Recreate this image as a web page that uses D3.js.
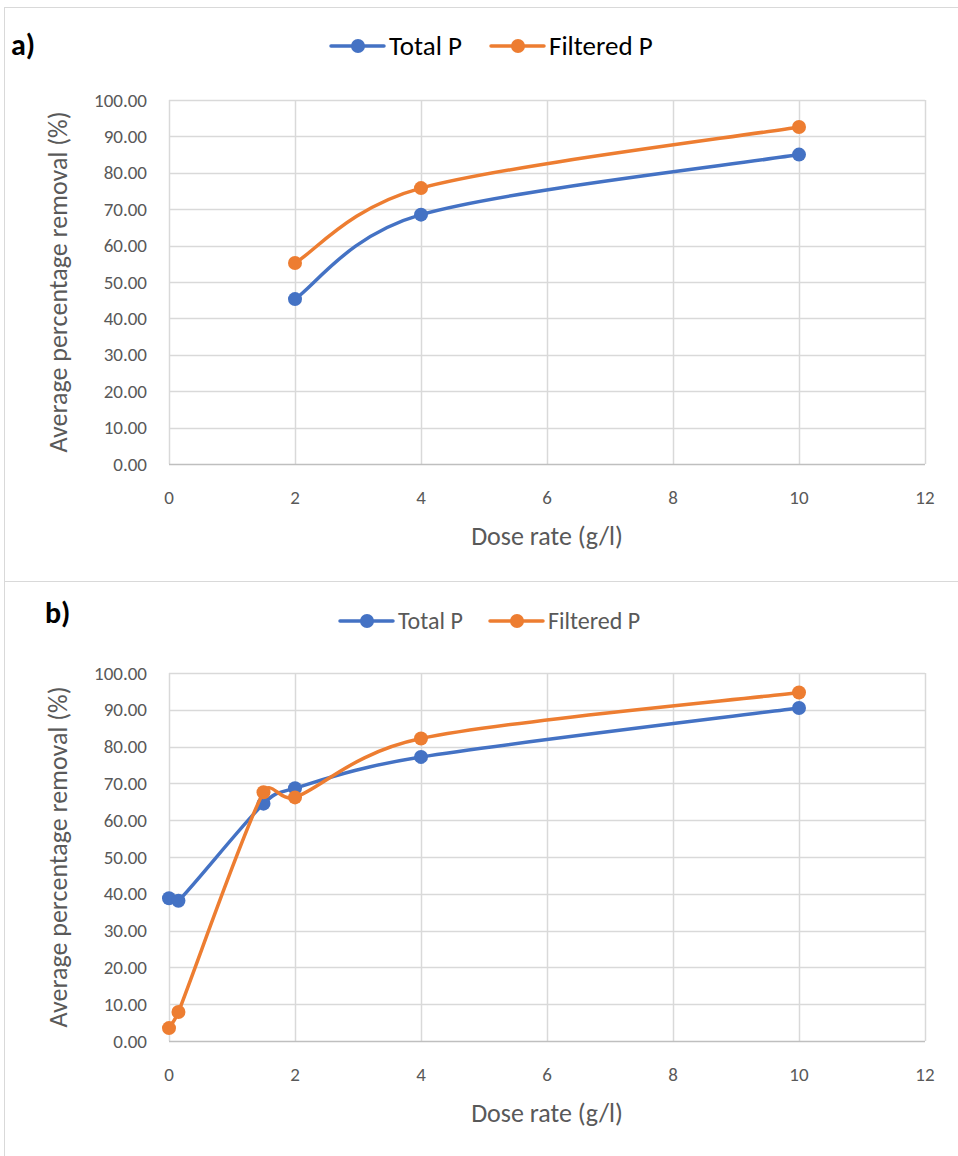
<!DOCTYPE html>
<html><head><meta charset="utf-8">
<script src="https://cdn.jsdelivr.net/npm/d3@7"></script>
<style>
body{margin:0;background:#fff;}
text{font-family:"Carlito","Liberation Sans Narrow","Open Sans",sans-serif;}
</style></head>
<body><svg id="c" width="958" height="1156"></svg>
<script>
const seriesNames = ["Total P", "Filtered P"];
const colors = ["#4472c4", "#ed7d31"];
const xTicks = [0, 2, 4, 6, 8, 10, 12];
const yTicks = [0, 10, 20, 30, 40, 50, 60, 70, 80, 90, 100];

const doseA = [2, 4, 10];
const totalA = [45.3, 68.5, 85.0];
const filteredA = [55.2, 75.8, 92.6];

const doseB = [0, 0.15, 1.5, 2, 4, 10];
const totalB = [38.8, 38.1, 64.5, 68.7, 77.2, 90.5];
const filteredB = [3.5, 7.9, 67.6, 66.2, 82.2, 94.7];

// Excel-like smoothing curve (Bezier with limited control-point length)
function ExcelCurve(context){ this._context = context; }
ExcelCurve.prototype = {
  areaStart(){}, areaEnd(){},
  lineStart(){ this._pts = []; },
  point(x, y){ this._pts.push([+x, +y]); },
  lineEnd(){
    const p = this._pts, c = this._context, n = p.length;
    if (!n) return;
    c.moveTo(p[0][0], p[0][1]);
    const dist = (a,b)=>Math.hypot(a[0]-b[0], a[1]-b[1]);
    for (let i = 0; i < n-1; i++){
      const p0 = p[Math.max(i-1,0)], p1 = p[i], p2 = p[i+1], p3 = p[Math.min(i+2,n-1)];
      const d12 = dist(p1,p2), d02 = dist(p0,p2), d13 = dist(p1,p3);
      let f1 = 1/6, f2 = 1/6;
      if (d02 > 0 && d02/6 > d12/2) f1 = d12/(2*d02);
      if (d13 > 0 && d13/6 > d12/2) f2 = d12/(2*d13);
      c.bezierCurveTo(p1[0]+f1*(p2[0]-p0[0]), p1[1]+f1*(p2[1]-p0[1]),
                      p2[0]-f2*(p3[0]-p1[0]), p2[1]-f2*(p3[1]-p1[1]),
                      p2[0], p2[1]);
    }
  }
};
const curveExcel = ctx => new ExcelCurve(ctx);

const svg = d3.select("#c");
svg.append("rect").attr("x",4.5).attr("y",7.5).attr("width",960).attr("height",574).attr("fill","none").attr("stroke","#d9d9d9");
svg.append("rect").attr("x",4.5).attr("y",581.5).attr("width",960).attr("height",600).attr("fill","none").attr("stroke","#d9d9d9");

function panel(cfg){
  const g = svg.append("g");
  const x = d3.scaleLinear().domain([0,12]).range([169,925]);
  const y = d3.scaleLinear().domain([0,100]).range([cfg.y0, cfg.y100]);
  g.selectAll(".hg").data(yTicks.slice(1)).join("line")
    .attr("x1",169).attr("x2",925).attr("y1",d=>Math.round(y(d))+0.5).attr("y2",d=>Math.round(y(d))+0.5)
    .attr("stroke","#d9d9d9").attr("stroke-width",1.5);
  g.selectAll(".vg").data(xTicks).join("line")
    .attr("x1",d=>Math.round(x(d))+0.5).attr("x2",d=>Math.round(x(d))+0.5).attr("y1",y(100)).attr("y2",y(0))
    .attr("stroke","#d9d9d9").attr("stroke-width",1.5);
  g.append("line").attr("x1",169).attr("x2",925).attr("y1",Math.round(y(0))+0.5).attr("y2",Math.round(y(0))+0.5)
    .attr("stroke","#bfbfbf").attr("stroke-width",1.5);
  g.selectAll(".yl").data(yTicks).join("text")
    .attr("x",147).attr("y",d=>y(d)).attr("dy","0.35em").attr("text-anchor","end")
    .attr("font-size",19).attr("fill","#595959").text(d=>d.toFixed(2));
  g.selectAll(".xl").data(xTicks).join("text")
    .attr("x",d=>x(d)).attr("y",y(0)+40).attr("text-anchor","middle")
    .attr("font-size",19).attr("fill","#595959").text(d=>d);
  g.append("text").attr("x",547).attr("y",y(0)+81).attr("text-anchor","middle")
    .attr("font-size",26).attr("fill","#595959").text("Dose rate (g/l)");
  g.append("text").attr("transform",`translate(67,${(y(0)+y(100))/2}) rotate(-90)`).attr("text-anchor","middle")
    .attr("font-size",26).attr("fill","#595959").text("Average percentage removal (%)");
  g.append("text").attr("x",cfg.lx).attr("y",cfg.ly).attr("font-size",30).attr("font-weight","bold").attr("fill","#000").text(cfg.label);
  const line = d3.line().x(d=>x(d[0])).y(d=>y(d[1])).curve(curveExcel);
  cfg.series.forEach((vals,i)=>{
    const pts = cfg.dose.map((d,j)=>[d, vals[j]]);
    g.append("path").attr("d",line(pts)).attr("fill","none").attr("stroke",colors[i]).attr("stroke-width",3.5).attr("stroke-linecap","round");
    g.selectAll(".m"+i).data(pts).join("circle").attr("cx",d=>x(d[0])).attr("cy",d=>y(d[1])).attr("r",7).attr("fill",colors[i]);
  });
  seriesNames.forEach((n,i)=>{
    const lx = cfg.legX[i];
    g.append("line").attr("x1",lx).attr("x2",lx+53).attr("y1",cfg.legY).attr("y2",cfg.legY).attr("stroke",colors[i]).attr("stroke-width",3.5).attr("stroke-linecap","round");
    g.append("circle").attr("cx",lx+27).attr("cy",cfg.legY).attr("r",7).attr("fill",colors[i]);
    g.append("text").attr("x",lx+cfg.legGap).attr("y",cfg.legY).attr("dy","0.35em").attr("font-size",cfg.legFont).attr("fill",cfg.legColor).text(n);
  });
}

panel({y0:464, y100:100, dose:doseA, series:[totalA, filteredA], label:"a)", lx:11, ly:55,
  legX:[331,491], legY:46, legGap:58, legFont:27, legColor:"#000"});
panel({y0:1041, y100:673, dose:doseB, series:[totalB, filteredB], label:"b)", lx:45, ly:623,
  legX:[340,490], legY:621, legGap:58, legFont:24, legColor:"#595959"});
</script></body></html>
